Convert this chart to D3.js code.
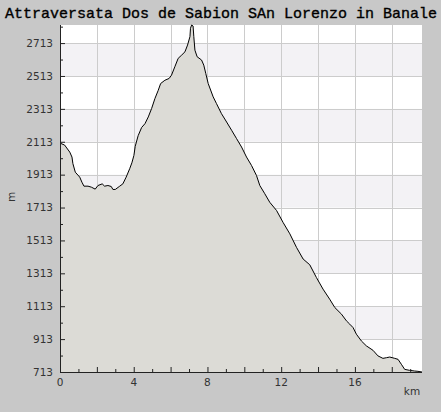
<!DOCTYPE html>
<html><head><meta charset="utf-8">
<script src="https://cdn.jsdelivr.net/npm/d3@7"></script>
<style>
html,body{margin:0;padding:0;background:#c8c8c8;}
svg{display:block;}
</style></head>
<body>
<script>
const title = "Attraversata Dos de Sabion SAn Lorenzo in Banale";
const distanceKm = [0.00,0.25,0.53,0.65,0.70,0.83,1.07,1.19,1.30,1.52,1.70,1.91,2.06,2.29,2.42,2.60,2.78,2.87,3.00,3.24,3.41,3.59,3.78,3.90,4.01,4.08,4.24,4.43,4.61,4.79,4.97,5.15,5.33,5.46,5.69,5.92,6.05,6.23,6.41,6.60,6.78,6.92,7.05,7.08,7.14,7.22,7.26,7.32,7.44,7.68,7.80,7.91,8.04,8.31,8.49,8.76,9.04,9.31,9.58,9.85,10.12,10.39,10.66,10.84,11.11,11.38,11.75,12.10,12.47,12.83,13.19,13.55,13.91,14.27,14.63,14.91,15.27,15.54,15.72,15.90,16.08,16.35,16.62,16.98,17.25,17.52,17.71,17.89,18.16,18.34,18.52,18.70,18.97,19.24,19.42,19.64];
const elevationM = [2105,2093,2050,2020,1980,1928,1898,1867,1843,1843,1837,1825,1847,1857,1843,1847,1841,1823,1823,1843,1857,1898,1949,1985,2030,2085,2150,2200,2223,2264,2315,2376,2426,2467,2487,2498,2518,2569,2620,2640,2660,2701,2752,2803,2823,2817,2752,2670,2630,2610,2579,2528,2467,2386,2345,2284,2233,2183,2132,2081,2020,1969,1908,1847,1797,1745,1695,1623,1553,1471,1400,1365,1288,1217,1156,1105,1065,1024,1004,983,943,902,872,845,811,796,800,804,796,790,760,729,723,719,717,713];
const yTickValues = [713,913,1113,1313,1513,1713,1913,2113,2313,2513,2713];
const yMinorTickValues = [813,1013,1213,1413,1613,1813,2013,2213,2413,2613,2813];
const xLabelValues = [0,4,8,12,16];
const xMajorTickValues = [2,4,6,8,10,12,14,16,18];
const xMinorTickValues = [1,3,5,7,9,11,13,15,17,19];
const shadedBands = [[913,1113],[1313,1513],[1713,1913],[2113,2313],[2513,2713]];
const xUnit = "km", yUnit = "m";

const W = 441, H = 412;
const m = {l:60, r:19, t:25, b:40};
const data = distanceKm.map((d,i)=>({x:d, y:elevationM[i]}));

const svg = d3.select("body").append("svg").attr("width",W).attr("height",H);
svg.append("rect").attr("width",W).attr("height",H).attr("fill","#c8c8c8");

const x = d3.scaleLinear().domain([0, d3.max(distanceKm)]).range([m.l, W-m.r]);
const y = d3.scaleLinear().domain([d3.min(elevationM), d3.max(elevationM)]).range([H-m.b, m.t]);

svg.append("rect").attr("x",m.l).attr("y",m.t).attr("width",W-m.r-m.l).attr("height",H-m.b-m.t).attr("fill","#ffffff");
svg.selectAll("rect.band").data(shadedBands).join("rect").attr("class","band")
  .attr("x",m.l).attr("width",W-m.r-m.l)
  .attr("y",d=>y(d[1])).attr("height",d=>y(d[0])-y(d[1]))
  .attr("fill","#f3f2f5");

const grid = svg.append("g").attr("stroke","#cccccc").attr("stroke-width",1).attr("shape-rendering","crispEdges");
grid.selectAll("line.h").data(yTickValues.slice(1)).join("line")
  .attr("x1",m.l).attr("x2",W-m.r).attr("y1",d=>Math.round(y(d))+0.5).attr("y2",d=>Math.round(y(d))+0.5);
grid.selectAll("line.v").data(xMajorTickValues).join("line")
  .attr("y1",m.t).attr("y2",H-m.b).attr("x1",d=>Math.round(x(d))+0.5).attr("x2",d=>Math.round(x(d))+0.5);

svg.append("path").datum(data)
  .attr("d", d3.area().x(d=>x(d.x)).y0(H-m.b).y1(d=>y(d.y)))
  .attr("fill","#dcdbd6");
svg.append("path").datum(data)
  .attr("d", d3.line().x(d=>x(d.x)).y(d=>y(d.y)))
  .attr("fill","none").attr("stroke","#000").attr("stroke-width",1);

const font = "'DejaVu Sans', sans-serif";
const yAxis = d3.axisRight(y).tickValues(yTickValues).tickSize(5).tickFormat("");
const gy = svg.append("g").attr("transform",`translate(${m.l},0)`).call(yAxis);
const yMinor = d3.axisRight(y).tickValues(yMinorTickValues).tickSize(3).tickFormat("");
const gym = svg.append("g").attr("transform",`translate(${m.l},0)`).call(yMinor);
[gy,gym].forEach(g=>{g.select(".domain").remove(); g.selectAll("line").attr("stroke","#222");});
svg.append("g").selectAll("text").data(yTickValues).join("text")
  .attr("x",m.l-7).attr("y",d=>y(d)).attr("dy","0.36em").attr("text-anchor","end")
  .attr("font-family",font).attr("font-size",10.5).attr("fill","#333").text(d=>d);

const xAxis = d3.axisTop(x).tickValues(xMajorTickValues).tickSize(5).tickFormat("");
const gx = svg.append("g").attr("transform",`translate(0,${H-m.b})`).call(xAxis);
const xMinor = d3.axisTop(x).tickValues(xMinorTickValues).tickSize(3).tickFormat("");
const gxm = svg.append("g").attr("transform",`translate(0,${H-m.b})`).call(xMinor);
[gx,gxm].forEach(g=>{g.select(".domain").remove(); g.selectAll("line").attr("stroke","#222");});
svg.append("g").selectAll("text").data(xLabelValues).join("text")
  .attr("x",d=>x(d)).attr("y",H-m.b+14).attr("text-anchor","middle")
  .attr("font-family",font).attr("font-size",10.5).attr("fill","#333").text(d=>d);

svg.append("line").attr("x1",m.l+0.5).attr("x2",m.l+0.5).attr("y1",m.t).attr("y2",H-m.b+0.5).attr("stroke","#222");
svg.append("line").attr("x1",m.l).attr("x2",W-m.r).attr("y1",H-m.b+0.5).attr("y2",H-m.b+0.5).attr("stroke","#222");

svg.append("text").attr("x",412).attr("y",395).attr("text-anchor","middle")
  .attr("font-family",font).attr("font-size",10.5).attr("fill","#333").text(xUnit);
svg.append("text").attr("transform","translate(15,197) rotate(-90)").attr("text-anchor","middle")
  .attr("font-family",font).attr("font-size",10.5).attr("fill","#333").text(yUnit);

svg.append("text").attr("x",5).attr("y",18).attr("font-family","'Liberation Mono', monospace")
  .attr("font-size",15).attr("fill","#000").attr("stroke","#000").attr("stroke-width",0.35).text(title);
</script>
</body></html>
